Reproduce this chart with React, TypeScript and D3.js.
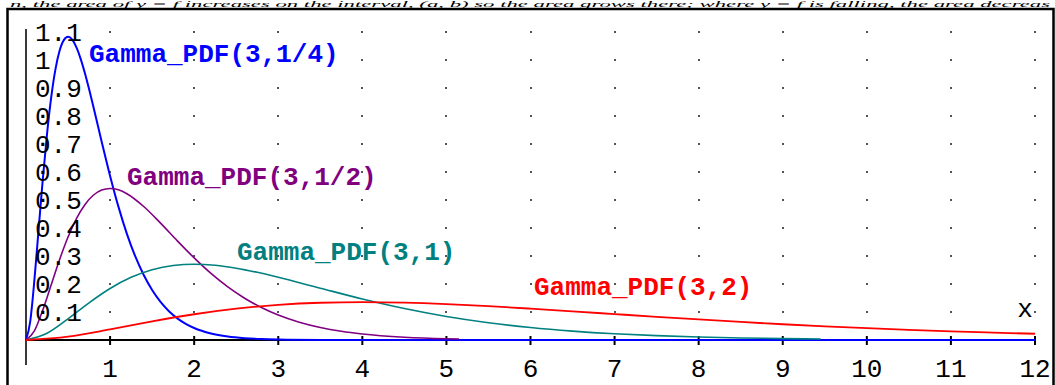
import React from "react";
import * as d3 from "d3";

const xTicks = [1, 2, 3, 4, 5, 6, 7, 8, 9, 10, 11, 12];
const yTicks = [0.1, 0.2, 0.3, 0.4, 0.5, 0.6, 0.7, 0.8, 0.9, 1.0, 1.1];
const yTickLabels = ["0.1", "0.2", "0.3", "0.4", "0.5", "0.6", "0.7", "0.8", "0.9", "1", "1.1"];

const gammaQuarter: [number, number][] = [
  [0, 0], [0.05, 0.0655], [0.1, 0.2145], [0.15, 0.3951], [0.2, 0.5751], [0.25, 0.7358],
  [0.3, 0.8674], [0.35, 0.9667], [0.4, 1.0337], [0.45, 1.0711], [0.5, 1.0827], [0.55, 1.0726],
  [0.6, 1.0451], [0.65, 1.0042], [0.7, 0.9535], [0.75, 0.8962], [0.8, 0.8348], [0.9, 0.7082],
  [1.0, 0.5861], [1.1, 0.4754], [1.2, 0.3792], [1.3, 0.2983], [1.4, 0.2319], [1.5, 0.1785],
  [1.6, 0.1361], [1.7, 0.103], [1.8, 0.0774], [1.9, 0.0578], [2.0, 0.0429], [2.2, 0.0233],
  [2.4, 0.0125], [2.6, 0.0066], [2.8, 0.0034], [3.0, 0.0018], [3.5, 0.0003], [4, 0.0001],
  [6, 0], [12, 0],
];

const gammaHalf: [number, number][] = [
  [0, 0], [0.1, 0.0327], [0.2, 0.1073], [0.3, 0.1976], [0.4, 0.2876], [0.5, 0.3679],
  [0.6, 0.4337], [0.7, 0.4833], [0.8, 0.5169], [0.9, 0.5356], [1.0, 0.5413], [1.1, 0.5363],
  [1.2, 0.5225], [1.4, 0.4768], [1.6, 0.4174], [1.8, 0.3541], [2.0, 0.2931], [2.2, 0.2377],
  [2.4, 0.1896], [2.6, 0.1492], [2.8, 0.116], [3.0, 0.0892], [3.25, 0.0635], [3.5, 0.0447],
  [3.75, 0.0311], [4.0, 0.0215], [4.5, 0.01], [5.0, 0.0045], [5.15, 0.0036],
];

const gammaOne: [number, number][] = [
  [0, 0], [0.25, 0.0243], [0.5, 0.0758], [0.75, 0.1329], [1, 0.1839], [1.25, 0.2238],
  [1.5, 0.251], [1.75, 0.2661], [2, 0.2707], [2.25, 0.2668], [2.5, 0.2565], [2.75, 0.2417],
  [3, 0.224], [3.5, 0.185], [4, 0.1465], [4.5, 0.1125], [5, 0.0842], [5.5, 0.0618],
  [6, 0.0446], [6.5, 0.0318], [7, 0.0223], [7.5, 0.0156], [8, 0.0107], [8.5, 0.0074],
  [9, 0.005], [9.45, 0.0035],
];

const gammaTwo: [number, number][] = [
  [0, 0], [0.5, 0.0122], [1, 0.0379], [1.5, 0.0664], [2, 0.092], [2.5, 0.1119], [3, 0.1255],
  [3.5, 0.133], [4, 0.1353], [4.5, 0.1334], [5, 0.1283], [5.5, 0.1209], [6, 0.112],
  [6.5, 0.1024], [7, 0.0925], [7.5, 0.0827], [8, 0.0733], [8.5, 0.0644], [9, 0.0562],
  [9.5, 0.0488], [10, 0.0421], [10.5, 0.0362], [11, 0.0309], [11.5, 0.0263], [12, 0.0223],
];

const seriesNames = ["Gamma_PDF(3,1/4)", "Gamma_PDF(3,1/2)", "Gamma_PDF(3,1)", "Gamma_PDF(3,2)"];
const seriesColors = ["#0000ff", "#800080", "#008080", "#ff0000"];
const seriesWidths = [2, 1.6, 1.6, 1.8];
const seriesData = [gammaQuarter, gammaHalf, gammaOne, gammaTwo];
const labelPos: [number, number][] = [[89, 62], [127, 185], [237, 260], [534, 295]];

const W = 1055;
const H = 385;

export default function App() {
  const x = d3.scaleLinear().domain([0, 12]).range([26, 1035]);
  const y = d3.scaleLinear().domain([0, 1.1]).range([340, 32]);
  const line = d3
    .line<[number, number]>()
    .x((d) => x(d[0]))
    .y((d) => y(d[1]))
    .curve(d3.curveMonotoneX);

  const mono = "'Liberation Mono', 'DejaVu Sans Mono', monospace";

  return (
    <svg
      width={W}
      height={H}
      style={{ position: "absolute", left: 0, top: 0, background: "#fff" }}
    >
      <rect x={0} y={0} width={W} height={H} fill="#fff" />
      <g transform="translate(10,6.5) scale(1,0.36)">
        <text
          x={0}
          y={0}
          fontFamily="'Liberation Serif', serif"
          fontStyle="italic"
          fontSize={20}
          textLength={1040}
          lengthAdjust="spacingAndGlyphs"
          fill="#000"
        >
          n, the area of y = f increases on the interval, (a, b) so the area grows there; where y = f is falling, the area decreas
        </text>
      </g>
      {/* frame */}
      <rect x={7.5} y={9} width={1046} height={390} fill="none" stroke="#000" strokeWidth={2.5} />

      {/* grid dots */}
      {xTicks.map((xv) =>
        yTicks.map((yv) => (
          <rect
            key={`d${xv}-${yv}`}
            x={Math.round(x(xv)) - 1}
            y={Math.round(y(yv)) - 1}
            width={2}
            height={2}
            fill="#555"
          />
        ))
      )}

      {/* y axis */}
      <line x1={x(0)} x2={x(0)} y1={29} y2={365} stroke="#3a3a3a" strokeWidth={2} />
      {/* x axis */}
      <line x1={x(0)} x2={x(12)} y1={y(0)} y2={y(0)} stroke="#000" strokeWidth={2} />
      {xTicks.map((t) => (
        <line key={`t${t}`} x1={x(t)} x2={x(t)} y1={y(0) - 4} y2={y(0) + 5} stroke="#000" strokeWidth={2} />
      ))}

      {/* curves */}
      {seriesData.map((d, i) => (
        <path key={`c${i}`} d={line(d) || ""} fill="none" stroke={seriesColors[i]} strokeWidth={seriesWidths[i]} />
      ))}

      {/* x tick labels */}
      {xTicks.map((t) => (
        <text
          key={`xl${t}`}
          x={x(t)}
          y={377}
          textAnchor="middle"
          fontFamily={mono}
          fontSize={26}
          fill="#000"
        >
          {t}
        </text>
      ))}
      {/* y tick labels */}
      {yTicks.map((t, i) => (
        <text key={`yl${t}`} x={35} y={y(t) + 9} fontFamily={mono} fontSize={26} fill="#000">
          {yTickLabels[i]}
        </text>
      ))}
      <text x={1025} y={317} textAnchor="middle" fontFamily={mono} fontSize={26} fill="#000">
        x
      </text>

      {/* curve labels */}
      {seriesNames.map((n, i) => (
        <text
          key={`n${i}`}
          x={labelPos[i][0]}
          y={labelPos[i][1]}
          fontFamily={mono}
          fontWeight="bold"
          fontSize={26}
          fill={seriesColors[i]}
        >
          {n}
        </text>
      ))}
    </svg>
  );
}
